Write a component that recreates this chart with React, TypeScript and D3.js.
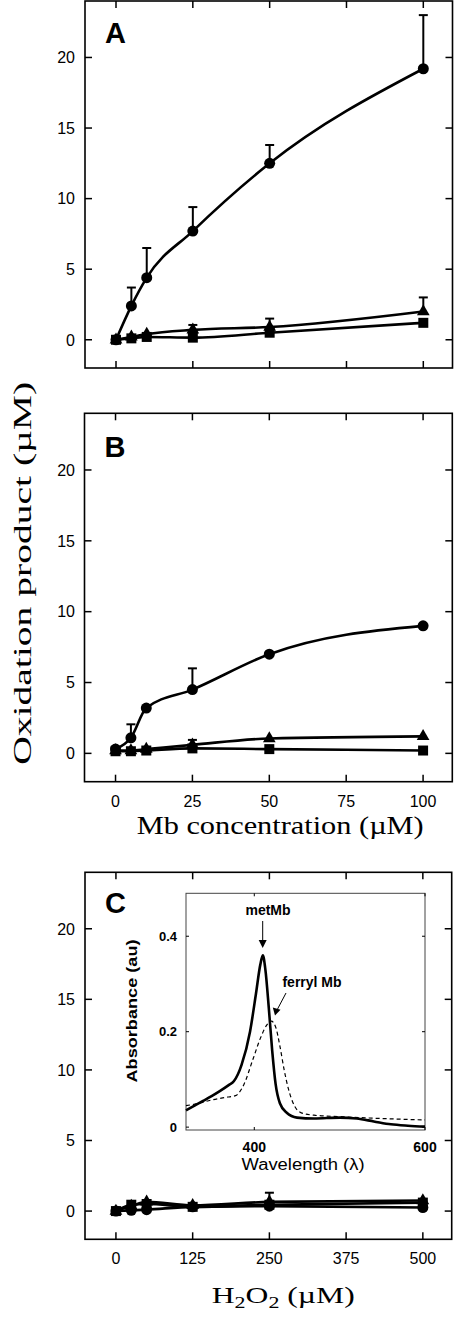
import React from "react";
import * as d3 from "d3";

// ---------- data ----------
const mbConc = [0, 5, 10, 25, 50, 100];
const mbTicks = [0, 25, 50, 75, 100];
const yTicks = [0, 5, 10, 15, 20];

const aCircle = [0, 2.4, 4.4, 7.7, 12.5, 19.2];
const aCircleErr = [0, 1.3, 2.1, 1.7, 1.3, 3.8];
const aTriangle = [0, 0.2, 0.4, 0.7, 0.9, 2.0];
const aTriangleErr = [0, 0, 0, 0.35, 0.6, 1.0];
const aSquare = [0, 0.1, 0.2, 0.15, 0.5, 1.2];

const bCircle = [0.3, 1.1, 3.2, 4.5, 7.0, 9.0];
const bCircleErr = [0, 0.95, 0, 1.5, 0, 0];
const bTriangle = [0.2, 0.2, 0.3, 0.6, 1.05, 1.2];
const bTriangleErr = [0, 0, 0, 0.35, 0, 0];
const bSquare = [0.15, 0.15, 0.2, 0.35, 0.3, 0.2];

const h2o2 = [0, 25, 50, 125, 250, 500];
const h2o2Ticks = [0, 125, 250, 375, 500];
const cCircle = [0, 0.05, 0.1, 0.3, 0.35, 0.25];
const cTriangle = [0, 0.35, 0.65, 0.4, 0.65, 0.75];
const cTriangleErr = [0, 0, 0, 0, 0.65, 0];
const cSquare = [0, 0.45, 0.5, 0.3, 0.45, 0.6];

const metMbSpectrum: [number, number][] = [
  [320, 0.035], [330, 0.045], [340, 0.055], [350, 0.065], [360, 0.076], [370, 0.088],
  [376, 0.096], [385, 0.13], [395, 0.2], [402, 0.28], [407, 0.34], [410, 0.36],
  [413, 0.33], [417, 0.25], [421, 0.16], [425, 0.09], [430, 0.05], [438, 0.03],
  [450, 0.02], [470, 0.018], [500, 0.02], [520, 0.018], [540, 0.012], [560, 0.006],
  [580, 0.003], [600, 0.001],
];
const ferrylSpectrum: [number, number][] = [
  [320, 0.045], [335, 0.05], [350, 0.057], [365, 0.062], [378, 0.066], [388, 0.09],
  [398, 0.14], [408, 0.19], [415, 0.215], [420, 0.222], [425, 0.21], [430, 0.17],
  [435, 0.12], [440, 0.08], [447, 0.045], [455, 0.03], [470, 0.025], [500, 0.022],
  [550, 0.018], [600, 0.015],
];
const insetYTicks = [0, 0.2, 0.4];
const insetXTicks = [400, 600];

// ---------- styles ----------
const SANS = "'Liberation Sans', Arial, Helvetica, sans-serif";
const SERIF = "'Liberation Serif', 'Times New Roman', serif";

type Series = { y: number[]; err?: number[]; shape: "circle" | "triangle" | "square" };

function Marker({ shape, x, y }: { shape: string; x: number; y: number }) {
  if (shape === "circle") return <circle cx={x} cy={y} r={5.5} fill="#000" />;
  const sym = shape === "triangle" ? d3.symbolTriangle : d3.symbolSquare;
  const size = shape === "triangle" ? 70 : 100;
  const d = d3.symbol(sym, size)() as string;
  return <path d={d} transform={`translate(${x},${y})`} fill="#000" />;
}

function Panel({
  left, right, top, bottom, xDomain, xs, xTicks, series, letter, letterY, tickLabels, tickLabelY,
}: {
  left: number; right: number; top: number; bottom: number; xDomain: [number, number];
  xs: number[]; xTicks: number[]; series: Series[]; letter: string; letterY: number;
  tickLabels: boolean; tickLabelY: number;
}) {
  const x = d3.scaleLinear().domain(xDomain).range([left, right]);
  const y = d3.scaleLinear().domain([-2, 24]).range([bottom, top]);
  const line = d3.line<number>().x((_, i) => x(xs[i])).y((v) => y(v)).curve(d3.curveMonotoneX);
  const tl = 7;
  return (
    <g>
      <rect x={left} y={top} width={right - left} height={bottom - top} fill="none" stroke="#000" strokeWidth={1.6} />
      {xTicks.map((t) => (
        <g key={"xt" + t}>
          <line x1={x(t)} x2={x(t)} y1={bottom} y2={bottom - tl} stroke="#000" strokeWidth={1.5} />
          <line x1={x(t)} x2={x(t)} y1={top} y2={top + tl} stroke="#000" strokeWidth={1.5} />
          {tickLabels && (
            <text x={x(t)} y={tickLabelY} fontFamily={SANS} fontSize={16} textAnchor="middle">{t}</text>
          )}
        </g>
      ))}
      {yTicks.map((t) => (
        <g key={"yt" + t}>
          <line x1={left} x2={left + tl} y1={y(t)} y2={y(t)} stroke="#000" strokeWidth={1.5} />
          <line x1={right} x2={right - tl} y1={y(t)} y2={y(t)} stroke="#000" strokeWidth={1.5} />
          <text x={75} y={y(t)} dy="0.36em" fontFamily={SANS} fontSize={16} textAnchor="end">{t}</text>
        </g>
      ))}
      <text x={left + 20} y={letterY} fontFamily={SANS} fontWeight="bold" fontSize={29}>{letter}</text>
      {series.map((s, si) => (
        <g key={"s" + si}>
          <path d={line(s.y) as string} fill="none" stroke="#000" strokeWidth={2.6} />
          {s.err && s.err.map((e, i) =>
            e > 0 ? (
              <g key={"e" + i}>
                <line x1={x(xs[i])} x2={x(xs[i])} y1={y(s.y[i])} y2={y(s.y[i] + e)} stroke="#000" strokeWidth={2} />
                <line x1={x(xs[i]) - 4.5} x2={x(xs[i]) + 4.5} y1={y(s.y[i] + e)} y2={y(s.y[i] + e)} stroke="#000" strokeWidth={2} />
              </g>
            ) : null
          )}
          {s.y.map((v, i) => (
            <Marker key={"m" + i} shape={s.shape} x={x(xs[i])} y={y(v)} />
          ))}
        </g>
      ))}
    </g>
  );
}

function Inset() {
  const left = 186, right = 425, top = 893.3, bottom = 1130;
  const x = d3.scaleLinear().domain([320, 600]).range([left, right]);
  const y = d3.scaleLinear().domain([-0.006, 0.49]).range([bottom, top]);
  const line = d3.line<[number, number]>().x((d) => x(d[0])).y((d) => y(d[1])).curve(d3.curveMonotoneX);
  return (
    <g>
      <rect x={left} y={top} width={right - left} height={bottom - top} fill="#fff" stroke="#444" strokeWidth={1} />
      {insetYTicks.map((t) => (
        <g key={"iy" + t}>
          <line x1={left} x2={left + 3} y1={y(t)} y2={y(t)} stroke="#000" />
          <line x1={right} x2={right - 3} y1={y(t)} y2={y(t)} stroke="#000" />
          <text x={177} y={y(t)} dy="0.36em" fontFamily={SANS} fontWeight="bold" fontSize={13} textAnchor="end">{t === 0 ? "0" : t.toFixed(1)}</text>
        </g>
      ))}
      {insetXTicks.map((t) => (
        <g key={"ix" + t}>
          <line x1={x(t)} x2={x(t)} y1={bottom} y2={bottom - 3} stroke="#000" />
          <line x1={x(t)} x2={x(t)} y1={top} y2={top + 3} stroke="#000" />
          <text x={x(t)} y={1152} fontFamily={SANS} fontWeight="bold" fontSize={14} textAnchor="middle">{t}</text>
        </g>
      ))}
      <path d={line(ferrylSpectrum) as string} fill="none" stroke="#000" strokeWidth={1.2} strokeDasharray="4,3" />
      <path d={line(metMbSpectrum) as string} fill="none" stroke="#000" strokeWidth={2.6} />
      <text x={303} y={1170} fontFamily={SANS} fontSize={16} textAnchor="middle" textLength={123} lengthAdjust="spacingAndGlyphs">Wavelength (λ)</text>
      <text transform="translate(137,1011) rotate(-90)" fontFamily={SANS} fontWeight="bold" fontSize={14} textAnchor="middle" textLength={143} lengthAdjust="spacingAndGlyphs">Absorbance (au)</text>
      <text x={268} y={915} fontFamily={SANS} fontWeight="bold" fontSize={14} textAnchor="middle">metMb</text>
      <line x1={262.7} x2={262.7} y1={921} y2={946} stroke="#000" strokeWidth={1} />
      <path d="M258.7,940 L262.7,948 L266.7,940 Z" fill="#000" />
      <text x={312} y={987} fontFamily={SANS} fontWeight="bold" fontSize={14} textAnchor="middle">ferryl Mb</text>
      <line x1={286} x2={276.5} y1={993} y2={1011} stroke="#000" strokeWidth={1} />
      <path d="M272.8,1007.5 L275,1015.5 L280.5,1009.7 Z" fill="#000" />
    </g>
  );
}

export default function App() {
  return (
    <svg width={457} height={1318} style={{ position: "absolute", left: 0, top: 0, background: "#fff" }}>
      <rect x={0} y={0} width={457} height={1318} fill="#fff" />
      <Panel
        left={85} right={452.5} top={1} bottom={368} xDomain={[-10.09, 109.5]} xs={mbConc} xTicks={mbTicks}
        letter="A" letterY={43} tickLabels={false} tickLabelY={0}
        series={[
          { y: aSquare, shape: "square" },
          { y: aTriangle, err: aTriangleErr, shape: "triangle" },
          { y: aCircle, err: aCircleErr, shape: "circle" },
        ]}
      />
      <Panel
        left={84.5} right={452.3} top={413.3} bottom={781.7} xDomain={[-10.09, 109.5]} xs={mbConc} xTicks={mbTicks}
        letter="B" letterY={457.3} tickLabels={true} tickLabelY={806.5}
        series={[
          { y: bSquare, shape: "square" },
          { y: bTriangle, err: bTriangleErr, shape: "triangle" },
          { y: bCircle, err: bCircleErr, shape: "circle" },
        ]}
      />
      <Panel
        left={85} right={451.7} top={872.3} bottom={1239.3} xDomain={[-50.4, 547]} xs={h2o2} xTicks={h2o2Ticks}
        letter="C" letterY={913.3} tickLabels={true} tickLabelY={1264}
        series={[
          { y: cSquare, shape: "square" },
          { y: cTriangle, err: cTriangleErr, shape: "triangle" },
          { y: cCircle, shape: "circle" },
        ]}
      />
      <Inset />
      <text x={136.7} y={834} fontFamily={SERIF} fontSize={25} textLength={287} lengthAdjust="spacingAndGlyphs">Mb concentration (µM)</text>
      <text transform="translate(31,573.3) rotate(-90)" fontFamily={SERIF} fontSize={26} textAnchor="middle" textLength={383} lengthAdjust="spacingAndGlyphs">Oxidation product (µM)</text>
      <text x={211.7} y={1303.3} fontFamily={SERIF} fontSize={23} textLength={143} lengthAdjust="spacingAndGlyphs">
        H<tspan fontSize={16} dy={5}>2</tspan><tspan dy={-5}>O</tspan><tspan fontSize={16} dy={5}>2</tspan><tspan dy={-5}> (µM)</tspan>
      </text>
    </svg>
  );
}
